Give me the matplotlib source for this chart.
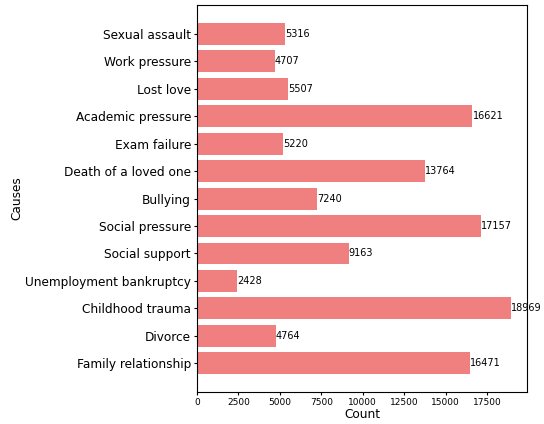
import matplotlib
matplotlib.use("Agg")
import matplotlib.pyplot as plt

causes = ["Sexual assault", "Work pressure", "Lost love", "Academic pressure",
          "Exam failure", "Death of a loved one", "Bullying", "Social pressure",
          "Social support", "Unemployment bankruptcy", "Childhood trauma",
          "Divorce", "Family relationship"]
counts = [5316, 4707, 5507, 16621, 5220, 13764, 7240, 17157, 9163, 2428,
          18969, 4764, 16471]

fig = plt.figure(figsize=(5.44, 4.24), dpi=100)
ax = fig.add_axes([0.362, 0.0755, 0.607, 0.9125])
ypos = list(range(len(causes)))[::-1]
ax.barh(ypos, counts, color="lightcoral")
ax.set_yticks(ypos)
ax.set_yticklabels(causes, fontsize=8.7)
ax.tick_params(axis="both", length=2.5, pad=1.8)
ax.tick_params(axis="x", labelsize=6.5)
for y, v in zip(ypos, counts):
    ax.text(v, y, str(v), va="center", ha="left", fontsize=7)
ax.set_xlabel("Count", fontsize=8.7, labelpad=1)
ax.set_ylabel("Causes", fontsize=8.7, labelpad=1)
fig.savefig("out.png", dpi=100)
